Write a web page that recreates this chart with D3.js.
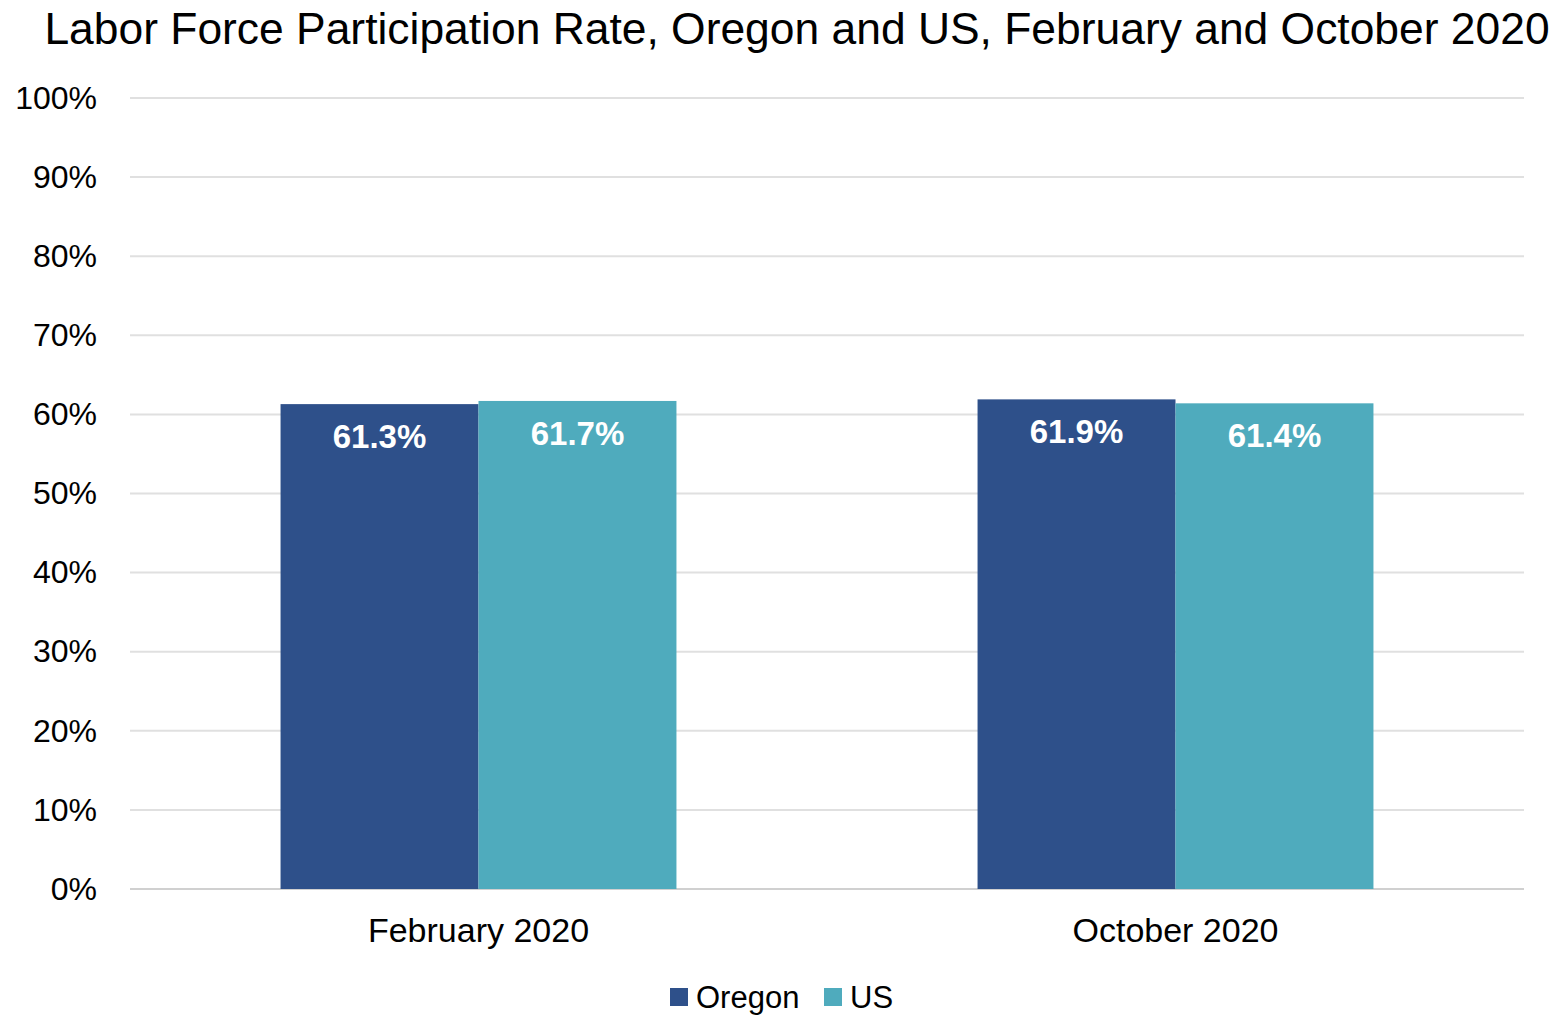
<!DOCTYPE html>
<html>
<head>
<meta charset="utf-8">
<script src="https://cdn.jsdelivr.net/npm/d3@7"></script>
<style>
  body { margin: 0; background: #fff; }
  text { font-family: "Liberation Sans", Arial, sans-serif; }
</style>
</head>
<body>
<svg class="chart" width="1564" height="1015"></svg>
<script>
const categories = ['February 2020', 'October 2020'];
const seriesNames = ['Oregon', 'US'];
const oregonValues = [61.3, 61.9];
const usValues = [61.7, 61.4];
const yTicks = [0, 10, 20, 30, 40, 50, 60, 70, 80, 90, 100];
const colors = ['#2e508a', '#4fabbd'];

document.addEventListener('DOMContentLoaded', function() {
    const svg = d3.select('svg.chart');
    const left = 130, right = 1524, top = 98, bottom = 889;

    const x = d3.scaleBand()
        .domain(categories)
        .range([left, right])
        .paddingInner(0.432)
        .paddingOuter(0.216);

    const xSub = d3.scaleBand()
        .domain(seriesNames)
        .range([0, x.bandwidth()]);

    const y = d3.scaleLinear().domain([0, 100]).range([bottom, top]);

    // Title
    svg.append('text')
        .attr('x', 797)
        .attr('y', 44)
        .attr('text-anchor', 'middle')
        .attr('font-size', 44.4)
        .attr('fill', '#000')
        .text('Labor Force Participation Rate, Oregon and US, February and October 2020');

    // Gridlines
    svg.append('g')
        .selectAll('line')
        .data(yTicks)
        .join('line')
        .attr('x1', left)
        .attr('x2', right)
        .attr('y1', d => y(d))
        .attr('y2', d => y(d))
        .attr('stroke', d => d === 0 ? '#d0d0d0' : '#e0e0e0')
        .attr('stroke-width', 2);

    // Y axis labels
    const yAxis = svg.append('g')
        .attr('transform', `translate(${left}, 0)`)
        .call(d3.axisLeft(y).tickValues(yTicks).tickFormat(d => d + '%').tickSize(0).tickPadding(33));
    yAxis.select('.domain').remove();
    yAxis.selectAll('text')
        .attr('font-size', 32)
        .attr('fill', '#000')
        .attr('font-family', '"Liberation Sans", Arial, sans-serif');

    // X axis labels
    const xAxis = svg.append('g')
        .attr('transform', `translate(0, ${bottom})`)
        .call(d3.axisBottom(x).tickSize(0).tickPadding(29));
    xAxis.select('.domain').remove();
    xAxis.selectAll('text')
        .attr('font-size', 34)
        .attr('fill', '#000')
        .attr('font-family', '"Liberation Sans", Arial, sans-serif');

    const rows = [];
    categories.forEach((c, i) => {
        rows.push({ cat: c, series: 'Oregon', value: oregonValues[i] });
        rows.push({ cat: c, series: 'US', value: usValues[i] });
    });

    const bars = svg.append('g')
        .selectAll('g')
        .data(rows)
        .join('g');

    bars.append('rect')
        .attr('x', d => x(d.cat) + xSub(d.series))
        .attr('y', d => y(d.value))
        .attr('width', xSub.bandwidth())
        .attr('height', d => y(0) - y(d.value))
        .attr('fill', d => colors[seriesNames.indexOf(d.series)]);

    bars.append('text')
        .attr('x', d => x(d.cat) + xSub(d.series) + xSub.bandwidth() / 2)
        .attr('y', d => y(d.value) + 44)
        .attr('text-anchor', 'middle')
        .attr('font-size', 33)
        .attr('font-weight', 'bold')
        .attr('fill', '#fff')
        .text(d => d.value.toFixed(1) + '%');

    // Legend
    const legend = svg.append('g');
    const legendItems = [
        { name: 'Oregon', x: 670 },
        { name: 'US', x: 824 }
    ];
    legendItems.forEach((item, i) => {
        legend.append('rect')
            .attr('x', item.x)
            .attr('y', 988)
            .attr('width', 18)
            .attr('height', 18)
            .attr('fill', colors[i]);
        legend.append('text')
            .attr('x', item.x + 26)
            .attr('y', 1008)
            .attr('font-size', 31)
            .attr('fill', '#000')
            .text(item.name);
    });
});
</script>
</body>
</html>
